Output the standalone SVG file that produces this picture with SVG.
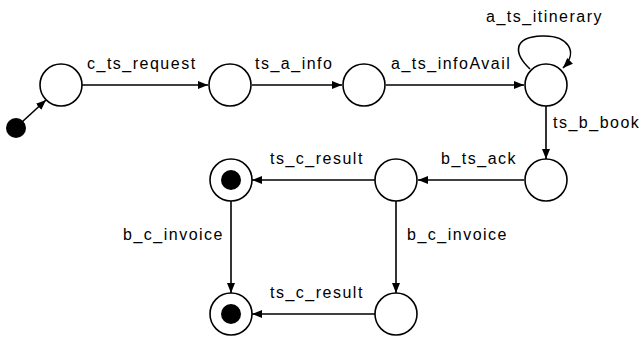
<svg xmlns="http://www.w3.org/2000/svg" width="641" height="338" viewBox="0 0 641 338">
<style>
.st{fill:#fff;stroke:#000;stroke-width:1.6}
.dot{fill:#000}
.e{fill:none;stroke:#000;stroke-width:1.6}
text{font-family:"Liberation Sans",Arial,sans-serif;font-size:16px;letter-spacing:1.5px;fill:#000}
</style>
<defs>
<marker id="ah" viewBox="0 0 10 8" refX="10" refY="4" markerWidth="10" markerHeight="8" markerUnits="userSpaceOnUse" orient="auto">
<path d="M0,0 L10,4 L0,8 z" fill="#000"/>
</marker>
</defs>
<g id="connectors">
<line class="e" x1="22" y1="122" x2="46" y2="100" marker-end="url(#ah)"/>
<line class="e" x1="82" y1="85" x2="208" y2="85" marker-end="url(#ah)"/>
<line class="e" x1="252" y1="85" x2="342" y2="85" marker-end="url(#ah)"/>
<line class="e" x1="386" y1="85" x2="524" y2="85" marker-end="url(#ah)"/>
<path class="e" d="M530 69 C514 54,512 37,542 36 C568 35,579 52,563 68" marker-end="url(#ah)"/>
<line class="e" x1="546" y1="106" x2="546" y2="159" marker-end="url(#ah)"/>
<line class="e" x1="524" y1="180" x2="418" y2="180" marker-end="url(#ah)"/>
<line class="e" x1="375" y1="180" x2="252" y2="180" marker-end="url(#ah)"/>
<line class="e" x1="231" y1="201" x2="231" y2="293" marker-end="url(#ah)"/>
<line class="e" x1="396" y1="201" x2="396" y2="293" marker-end="url(#ah)"/>
<line class="e" x1="375" y1="314" x2="252" y2="314" marker-end="url(#ah)"/>
<text x="87" y="69">c_ts_request</text>
<text x="255" y="69">ts_a_info</text>
<text x="391" y="69">a_ts_infoAvail</text>
<text x="486" y="22">a_ts_itinerary</text>
<text x="553" y="128">ts_b_book</text>
<text x="441" y="164">b_ts_ack</text>
<text x="270" y="164">ts_c_result</text>
<text x="407" y="240">b_c_invoice</text>
<text x="123" y="240">b_c_invoice</text>
<text x="270" y="298">ts_c_result</text>
</g>
<g id="init"><circle class="dot" cx="16" cy="128" r="10"/></g>
<g id="s1"><circle class="st" cx="61" cy="85" r="21"/></g>
<g id="s2"><circle class="st" cx="230" cy="85" r="21"/></g>
<g id="s3"><circle class="st" cx="364" cy="85" r="21"/></g>
<g id="s4"><circle class="st" cx="546" cy="85" r="21"/></g>
<g id="s5"><circle class="st" cx="546" cy="180" r="21"/></g>
<g id="s6"><circle class="st" cx="396" cy="180" r="21"/></g>
<g id="s7"><circle class="st" cx="396" cy="314" r="21"/></g>
<g id="f1"><circle class="st" cx="231" cy="180" r="21"/><circle class="dot" cx="231" cy="180" r="10"/></g>
<g id="f2"><circle class="st" cx="231" cy="314" r="21"/><circle class="dot" cx="231" cy="314" r="10"/></g>
</svg>
